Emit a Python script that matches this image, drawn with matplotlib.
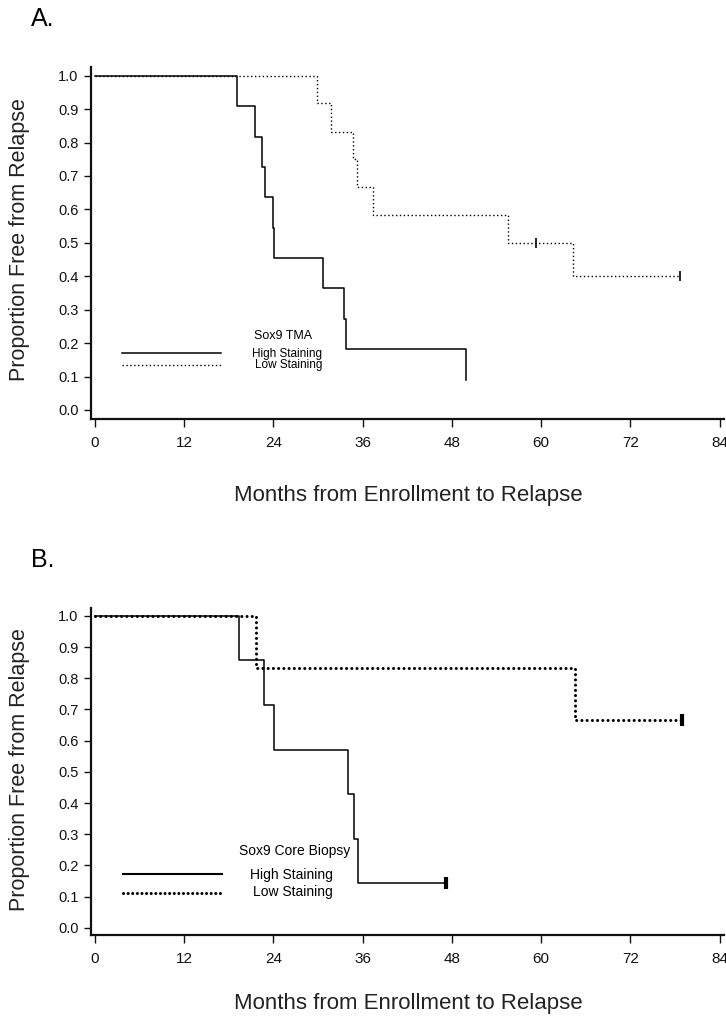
import matplotlib
matplotlib.use("Agg")
import matplotlib.pyplot as plt
from matplotlib.lines import Line2D

plt.rcParams['font.family'] = ['Liberation Sans', 'DejaVu Sans']

# ---------------- data ----------------
x_ticks = [0, 12, 24, 36, 48, 60, 72, 84]
y_ticks = [0.0, 0.1, 0.2, 0.3, 0.4, 0.5, 0.6, 0.7, 0.8, 0.9, 1.0]

a_high_t = [0, 19.1, 21.5, 22.5, 22.9, 24.0, 24.1, 30.6, 33.5, 33.8, 49.9]
a_high_s = [1.0, 0.909, 0.818, 0.727, 0.636, 0.545, 0.455, 0.364, 0.273, 0.182, 0.091]
a_low_t = [0, 29.9, 31.7, 34.7, 35.2, 37.4, 55.6, 64.3, 78.7]
a_low_s = [1.0, 0.917, 0.833, 0.750, 0.667, 0.583, 0.500, 0.400, 0.400]
a_low_cens_t = [59.3, 78.7]
a_low_cens_s = [0.500, 0.400]

b_high_t = [0, 19.3, 22.7, 24.1, 34.0, 34.9, 35.4, 47.2]
b_high_s = [1.0, 0.857, 0.714, 0.571, 0.429, 0.286, 0.143, 0.143]
b_high_cens_t = [47.2]
b_high_cens_s = [0.143]
b_low_t = [0, 21.7, 64.5, 79.0]
b_low_s = [1.0, 0.833, 0.667, 0.667]
b_low_cens_t = [79.0]
b_low_cens_s = [0.667]

W, H = 726, 1017
fig = plt.figure(figsize=(W / 100, H / 100), dpi=100)

def fx(px):
    return px / W

def fy(py):
    return 1 - py / H

def make_axes(top_px, bottom_px):
    left_px, right_px = 91, 724
    ax = fig.add_axes([fx(left_px), fy(bottom_px), fx(right_px - left_px),
                       (bottom_px - top_px) / H])
    return ax

def style(ax, ylo, yhi):
    ax.set_xlim(-0.54, 84.6)
    ax.set_ylim(ylo, yhi)
    for s in ['top', 'right']:
        ax.spines[s].set_visible(False)
    for s in ['left', 'bottom']:
        ax.spines[s].set_linewidth(1.6)
        ax.spines[s].set_color('#111111')
    ax.set_xticks(x_ticks)
    ax.set_xticklabels([str(v) for v in x_ticks])
    ax.set_yticks(y_ticks)
    ax.set_yticklabels([f"{v:.1f}" for v in y_ticks])
    ax.tick_params(axis='x', length=6, width=1.0, pad=6, labelsize=11, colors='#111111')
    ax.tick_params(axis='y', length=5, width=1.0, pad=4, labelsize=10.5, colors='#111111')

narrow = ['Liberation Sans Narrow', 'Liberation Sans', 'DejaVu Sans']

# ---------------- Panel A ----------------
axA = make_axes(67, 419)
style(axA, -0.027, 1.026)
axA.step(a_low_t, a_low_s, where='post', color='black', lw=1.0, ls=(0, (1, 1.8)))
axA.step(a_high_t, a_high_s, where='post', color='black', lw=1.1)
axA.plot(a_low_cens_t, a_low_cens_s, ls='none', marker='|', ms=7, mew=1.2, color='black')

fig.text(fx(43), fy(19), "A.", fontsize=18, ha='center', va='center')
fig.text(fx(20), fy(240), "Proportion Free from Relapse", rotation=90,
         fontsize=15.5, ha='center', va='center', color='#222222')
fig.text(fx(408), fy(495), "Months from Enrollment to Relapse",
         fontsize=16, ha='center', va='center', color='#222222')

fig.add_artist(Line2D([fx(122), fx(221)], [fy(353), fy(353)], color='black', lw=1.1))
fig.add_artist(Line2D([fx(122), fx(221)], [fy(365), fy(365)], color='black', lw=1.0,
                      ls=(0, (1, 1.8))))
fig.text(fx(283), fy(336), "Sox9 TMA", fontsize=9, ha='center', va='center', family=narrow)
fig.text(fx(252), fy(354), "High Staining", fontsize=8.5, ha='left', va='center', family=narrow)
fig.text(fx(255), fy(365), "Low Staining", fontsize=8.5, ha='left', va='center', family=narrow)

# ---------------- Panel B ----------------
axB = make_axes(608, 935)
style(axB, -0.023, 1.025)
axB.step(b_low_t, b_low_s, where='post', color='black', lw=2.2,
         ls=(0, (0.01, 1.7)), dash_capstyle='round')
axB.step(b_high_t, b_high_s, where='post', color='black', lw=1.1)
axB.plot(b_high_cens_t, b_high_cens_s, ls='none', marker='|', ms=8, mew=3, color='black')
axB.plot(b_low_cens_t, b_low_cens_s, ls='none', marker='|', ms=8, mew=3, color='black')

fig.text(fx(43), fy(560), "B.", fontsize=18, ha='center', va='center')
fig.text(fx(20), fy(770), "Proportion Free from Relapse", rotation=90,
         fontsize=15.5, ha='center', va='center', color='#222222')
fig.text(fx(408), fy(1003), "Months from Enrollment to Relapse",
         fontsize=16, ha='center', va='center', color='#222222')

fig.add_artist(Line2D([fx(123), fx(222)], [fy(874), fy(874)], color='black', lw=1.5))
fig.add_artist(Line2D([fx(123), fx(222)], [fy(893), fy(893)], color='black', lw=2.2,
                      ls=(0, (0.01, 1.5)), dash_capstyle='round'))
fig.text(fx(295), fy(851), "Sox9 Core Biopsy", fontsize=10, ha='center', va='center', family=narrow)
fig.text(fx(291), fy(875), "High Staining", fontsize=10, ha='center', va='center', family=narrow)
fig.text(fx(293), fy(892), "Low Staining", fontsize=10, ha='center', va='center', family=narrow)

fig.savefig("out.png", dpi=100, facecolor='white')
